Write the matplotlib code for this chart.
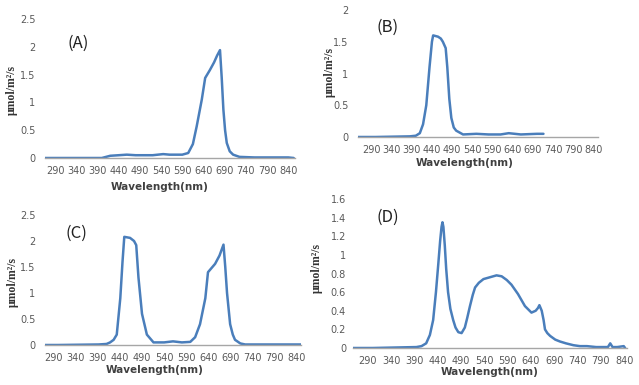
import matplotlib.pyplot as plt

# wavelength (nm) / intensity (umol/m2/s)
wl_a = [266, 300, 400, 420, 440, 459, 480, 520, 545, 560, 590, 604, 615, 624, 636,
        644, 655, 665, 672, 679, 683, 687, 691, 695, 702, 710, 725, 760, 800, 840, 853]
val_a = [0.0, 0.0, 0.0, 0.04, 0.05, 0.06, 0.05, 0.05, 0.07, 0.06, 0.06, 0.09, 0.25, 0.57, 1.05,
         1.44, 1.58, 1.72, 1.84, 1.94, 1.45, 0.87, 0.5, 0.27, 0.12, 0.06, 0.02, 0.01, 0.01, 0.01, 0.0]

wl_b = [257, 300, 385, 400, 410, 418, 426, 434, 440, 443, 455, 462, 467, 474, 478,
        483, 488, 494, 500, 517, 550, 580, 610, 630, 660, 700, 716]
val_b = [0.0, 0.0, 0.01, 0.02, 0.06, 0.2, 0.5, 1.1, 1.5, 1.6, 1.58, 1.55, 1.5, 1.4, 1.1,
         0.6, 0.3, 0.15, 0.1, 0.04, 0.05, 0.04, 0.04, 0.06, 0.04, 0.05, 0.05]

wl_c = [271, 300, 392, 410, 418, 426, 433, 441, 446, 450, 463, 472, 477, 482, 490,
        501, 516, 540, 560, 580, 599, 610, 621, 633, 639, 647, 655, 665, 674, 678,
        682, 689, 695, 700, 712, 723, 760, 800, 849]
val_c = [0.0, 0.0, 0.01, 0.02, 0.05, 0.1, 0.2, 0.9, 1.6, 2.08, 2.06, 2.0, 1.92, 1.3, 0.6,
         0.2, 0.05, 0.05, 0.07, 0.05, 0.06, 0.15, 0.4, 0.9, 1.4, 1.48, 1.56, 1.72, 1.93, 1.5,
         1.0, 0.4, 0.2, 0.1, 0.03, 0.01, 0.01, 0.01, 0.01]

wl_d = [258, 300, 394, 405, 415, 423, 430, 436, 441, 445, 448, 450, 452, 455, 458,
        462, 467, 473, 478, 484, 491, 498, 503, 509, 515, 520, 528, 538, 552, 566,
        577, 588, 598, 612, 627, 641, 650, 655, 658, 663, 667, 670, 675, 681, 692,
        702, 715, 731, 745, 760, 780, 796, 805, 810, 815, 825, 839, 842]
val_d = [0.0, 0.0, 0.01, 0.02, 0.05, 0.14, 0.3, 0.6, 0.9, 1.15, 1.3, 1.35, 1.3, 1.1, 0.85,
         0.6, 0.42, 0.3, 0.22, 0.17, 0.16, 0.22, 0.32, 0.45, 0.57, 0.65, 0.7, 0.74, 0.76, 0.78,
         0.77, 0.73, 0.68, 0.58, 0.45, 0.38, 0.4, 0.43, 0.46, 0.4, 0.3, 0.2, 0.16, 0.13, 0.09,
         0.07, 0.05, 0.03, 0.02, 0.02, 0.01, 0.01, 0.01, 0.05, 0.01, 0.01, 0.02, 0.0]

xticks = list(range(290, 841, 50))
panels = [
    # (label, x, y, xlim, ylim, ystep, axes box px, letter pos, ylabel pos, xlabel pos)
    ("(A)", wl_a, val_a, (266, 856), 2.5, 0.5, [45, 19, 295, 158], (78, 43), (12, 90), (160, 187)),
    ("(B)", wl_b, val_b, (257, 851), 2.0, 0.5, [358, 10, 598, 137], (388, 27), (330, 72), (465, 163)),
    ("(C)", wl_c, val_c, (271, 849), 2.5, 0.5, [45, 215, 301, 345], (76, 233), (13, 282), (155, 370)),
    ("(D)", wl_d, val_d, (258, 846), 1.6, 0.2, [353, 199, 627, 348], (388, 217), (317, 268), (490, 372)),
]

W, H = 639, 385
fig = plt.figure(figsize=(W / 100, H / 100), dpi=100)
gray = "#595959"

for letter, x, y, xlim, ytop, ystep, box, lpos, ylpos, xlpos in panels:
    x0, y0, x1, y1 = box
    ax = fig.add_axes([x0 / W, 1 - y1 / H, (x1 - x0) / W, (y1 - y0) / H])
    ax.plot(x, y, color="#4A7EBB", lw=1.8, solid_joinstyle="round", solid_capstyle="round")
    ax.set_xlim(*xlim)
    ax.set_ylim(0, ytop)
    ax.set_xticks(xticks)
    n = int(round(ytop / ystep))
    yt = [round(i * ystep, 2) for i in range(n + 1)]
    ax.set_yticks(yt)
    ax.set_yticklabels([("%g" % v) for v in yt])
    for s in ["top", "right", "left"]:
        ax.spines[s].set_visible(False)
    ax.spines["bottom"].set_color("#a6a6a6")
    ax.spines["bottom"].set_linewidth(1.0)
    ax.tick_params(length=0, labelsize=7, colors=gray, pad=6)
    ax.tick_params(axis="y", pad=7 if letter != "(D)" else 5)
    ax.patch.set_alpha(0)
    fig.text(lpos[0] / W, 1 - lpos[1] / H, letter, fontsize=12, ha="center", va="center",
             color="#222222", fontweight="light", family="Noto Sans CJK KR")
    fig.text(ylpos[0] / W, 1 - ylpos[1] / H, "μmol/m²/s", rotation=90, fontsize=8.5,
             ha="center", va="center", fontweight="bold", family="Liberation Serif", color="#333333")
    fig.text(xlpos[0] / W, 1 - xlpos[1] / H, "Wavelength(nm)", fontsize=7.5, ha="center",
             va="center", fontweight="bold", color="#404040")

fig.savefig("out.png", dpi=100)
